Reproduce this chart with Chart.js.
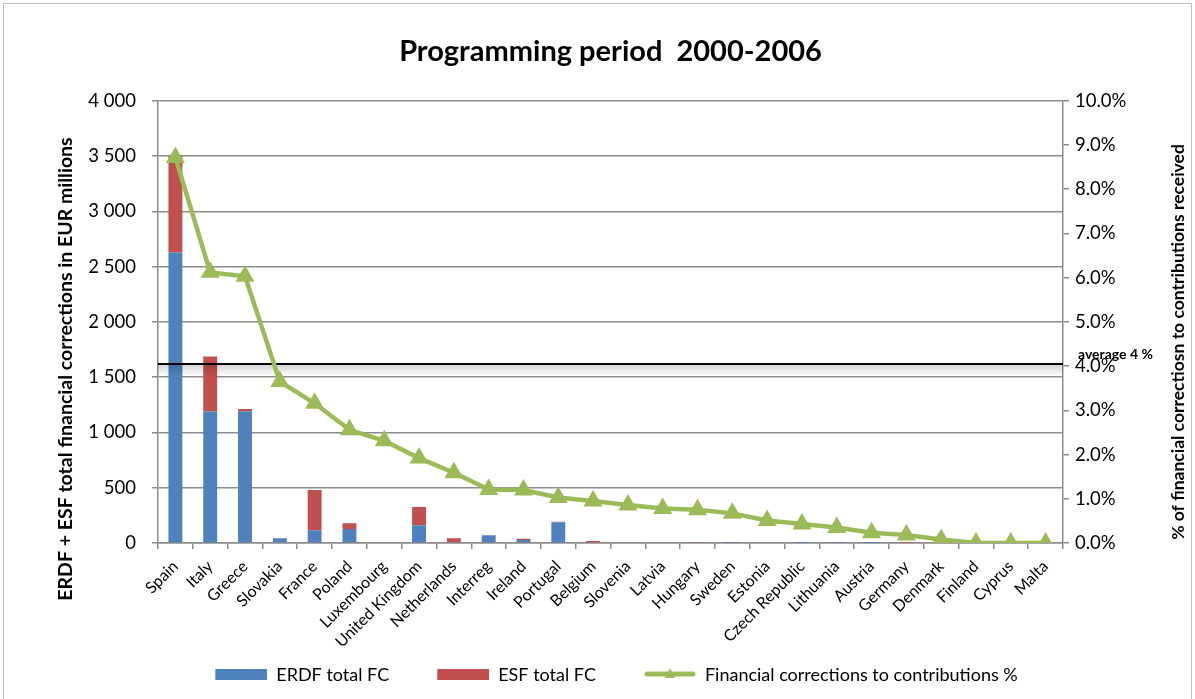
<!DOCTYPE html>
<html>
<head>
<meta charset="utf-8">
<script src="https://cdn.jsdelivr.net/npm/chart.js@4"></script>
<style>
  html, body { margin: 0; padding: 0; background: #fff; }
  #wrap { width: 1195px; height: 699px; position: relative; }
</style>
</head>
<body>
<div id="wrap"><canvas id="chart" width="1195" height="699"></canvas></div>
<script>
const countries = ['Spain', 'Italy', 'Greece', 'Slovakia', 'France', 'Poland', 'Luxembourg', 'United Kingdom',
  'Netherlands', 'Interreg', 'Ireland', 'Portugal', 'Belgium', 'Slovenia', 'Latvia', 'Hungary', 'Sweden',
  'Estonia', 'Czech Republic', 'Lithuania', 'Austria', 'Germany', 'Denmark', 'Finland', 'Cyprus', 'Malta'];
const erdf = [2627, 1190, 1192, 42, 115, 127, 0, 160, 0, 70, 27, 187, 0, 0, 0, 0, 2, 0, 1, 3, 1, 0, 0, 0, 0, 0];
const esf = [875, 496, 21, 0, 365, 51, 0, 166, 42, 0, 12, 5, 18, 0, 0, 10, 4, 0, 1, 1, 2, 1, 0, 0, 0, 0];
const correctionPct = [8.72, 6.12, 6.03, 3.65, 3.16, 2.56, 2.31, 1.92, 1.59, 1.21, 1.20, 1.03, 0.95, 0.86,
  0.78, 0.75, 0.67, 0.51, 0.43, 0.35, 0.23, 0.18, 0.08, 0, 0, 0];
const averagePct = 4.05;
const averageLabel = 'average 4 %';

const BLUE = '#4F81BD', RED = '#C0504D', GREEN = '#9BBB59', GRID = '#8c8c8c';
const FONT = 'Lato';

// legend pictures in the Excel style, with empty room on the left as spacing
const legendIcon = (kind, color) => {
  const c = document.createElement('canvas');
  c.width = 90; c.height = 14;
  const g = c.getContext('2d');
  g.fillStyle = color;
  if (kind === 'bar') {
    g.fillRect(38, 1, 52, 11);
  } else {
    g.strokeStyle = color; g.lineWidth = 5; g.lineCap = 'round';
    g.beginPath(); g.moveTo(41, 6); g.lineTo(87, 6); g.stroke();
    g.beginPath(); g.moveTo(64, 0); g.lineTo(69, 10); g.lineTo(59, 10); g.closePath(); g.fill();
  }
  return c;
};

const fmtThousands = v => String(v).replace(/\B(?=(\d{3})+(?!\d))/g, ' ');

const extras = {
  id: 'extras',
  beforeDatasetDraw(chart, args) {
    if (args.index !== 2) return;
    const { ctx, chartArea } = chart;
    const y = Math.round(chart.scales.y2.getPixelForValue(averagePct));
    ctx.save();
    const grad = ctx.createLinearGradient(0, y, 0, y + 12);
    grad.addColorStop(0, 'rgba(0,0,0,0.18)');
    grad.addColorStop(1, 'rgba(0,0,0,0)');
    ctx.fillStyle = grad;
    ctx.fillRect(chartArea.left, y, chartArea.right - chartArea.left, 12);
    ctx.strokeStyle = '#000';
    ctx.lineWidth = 2;
    ctx.beginPath();
    ctx.moveTo(chartArea.left, y);
    ctx.lineTo(chartArea.right, y);
    ctx.stroke();
    ctx.restore();
  },
  afterDraw(chart) {
    const { ctx, chartArea } = chart;
    ctx.save();
    ctx.fillStyle = '#000';
    ctx.font = 'bold 14px ' + FONT;
    ctx.textAlign = 'left';
    ctx.textBaseline = 'middle';
    const y = chart.scales.y2.getPixelForValue(averagePct);
    ctx.fillText(averageLabel, chartArea.right + 15, y - 9);

    ctx.textAlign = 'center';
    ctx.save();
    ctx.font = 'bold 19.5px ' + FONT;
    ctx.translate(66, 369);
    ctx.rotate(-Math.PI / 2);
    ctx.fillText('ERDF + ESF total financial corrections in EUR millions', 0, 0);
    ctx.restore();
    ctx.save();
    ctx.font = 'bold 17.5px ' + FONT;
    ctx.translate(1178, 342);
    ctx.rotate(-Math.PI / 2);
    ctx.fillText('% of financial correctiosn to contributions received', 0, 0);
    ctx.restore();

    ctx.strokeStyle = '#bfbfbf';
    ctx.lineWidth = 1;
    ctx.strokeRect(3.5, 3.5, 1188, 700);
    ctx.restore();
  }
};

new Chart(document.getElementById('chart'), {
  data: {
    labels: countries,
    datasets: [
      { type: 'bar', label: 'ERDF total FC', data: erdf, backgroundColor: BLUE, yAxisID: 'y', order: 2,
        barPercentage: 0.4, categoryPercentage: 1 },
      { type: 'bar', label: 'ESF total FC', data: esf, backgroundColor: RED, yAxisID: 'y', order: 2,
        barPercentage: 0.4, categoryPercentage: 1 },
      { type: 'line', label: 'Financial corrections to contributions %', data: correctionPct, yAxisID: 'y2',
        order: 1, borderColor: GREEN, backgroundColor: GREEN, borderWidth: 4.5, tension: 0,
        pointStyle: 'triangle', pointRadius: 11, pointBorderWidth: 0, pointBackgroundColor: GREEN }
    ]
  },
  options: {
    responsive: false,
    animation: false,
    layout: { padding: { left: 0, right: 0, top: 0, bottom: 5 } },
    plugins: {
      title: {
        display: true,
        fullSize: false,
        text: 'Programming period  2000-2006',
        color: '#000',
        font: { family: FONT, size: 29, weight: 'bold' },
        padding: { top: 34, bottom: 32 }
      },
      legend: {
        position: 'bottom',
        labels: {
          usePointStyle: true,
          pointStyleWidth: 90,
          boxHeight: 14,
          padding: 10,
          color: '#000',
          font: { family: FONT, size: 18 },
          generateLabels(chart) {
            return chart.data.datasets.map((ds, i) => ({
              text: ds.label,
              datasetIndex: i,
              hidden: false,
              lineWidth: 0,
              fontColor: '#000',
              pointStyle: legendIcon(ds.type === 'line' ? 'line' : 'bar', ds.backgroundColor)
            }));
          }
        }
      },
      tooltip: { enabled: false }
    },
    scales: {
      x: {
        stacked: true,
        offset: true,
        afterFit(scale) { scale.height = 113; },
        grid: { display: true, drawOnChartArea: false, offset: true, color: GRID, lineWidth: 1.5, tickLength: 6 },
        border: { color: GRID, width: 1.5 },
        ticks: { color: '#000', font: { family: FONT, size: 16 }, minRotation: 45, maxRotation: 45, padding: 8, autoSkip: false }
      },
      y: {
        position: 'left',
        stacked: true,
        min: 0, max: 4000,
        afterFit(scale) { scale.width = 158; },
        ticks: { stepSize: 500, color: '#000', font: { family: FONT, size: 18.5 }, padding: 16, callback: fmtThousands },
        grid: { color: GRID, lineWidth: 1.5, tickLength: 6 },
        border: { color: GRID, width: 1.5 }
      },
      y2: {
        position: 'right',
        min: 0, max: 10,
        afterFit(scale) { scale.width = 132; },
        ticks: { stepSize: 1, color: '#000', font: { family: FONT, size: 18.5 }, padding: 6, callback: v => v.toFixed(1) + '%' },
        grid: { drawOnChartArea: false, color: GRID, lineWidth: 1.5, tickLength: 6 },
        border: { color: GRID, width: 1.5 }
      }
    }
  },
  plugins: [extras]
});
</script>
</body>
</html>
